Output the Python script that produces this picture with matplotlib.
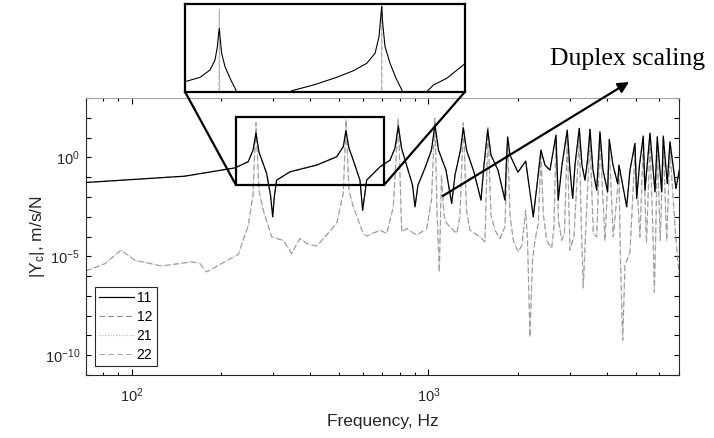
import numpy as np
import matplotlib.pyplot as plt
from matplotlib.patches import Rectangle, ConnectionPatch
from matplotlib.ticker import NullFormatter, LogLocator

plt.rcParams['font.family'] = ['Liberation Sans', 'DejaVu Sans']
plt.rcParams['mathtext.default'] = 'regular'

# |Y_11| (22 sits on top of it) - frequency in Hz, magnitude as log10
f11 = [70, 151, 223, 247, 256.5, 262.3, 268.5, 285, 293.6, 298.7, 302.8, 308, 341.6, 420,
       490.6, 516.4, 527.2, 539.6, 557.9, 587.8, 600.2, 619.1, 686.5, 742, 771.4, 791.5,
       811.3, 853.3, 883.6, 900.9, 922, 973.2, 1023.5, 1051.7, 1080.7, 1145.5, 1197.3,
       1228.4, 1282, 1310.3, 1343.3, 1423.6, 1502.8, 1538.2, 1583, 1624, 1714.6, 1810.4,
       1831.5, 1848.5, 1881.8, 2002, 2126, 2181, 2255, 2321, 2393, 2469, 2567, 2689, 2737,
       2817, 2935, 2998, 3061, 3116, 3222, 3290, 3368, 3434, 3501, 3583, 3688, 3783, 3872,
       4016, 4066, 4184, 4340, 4384, 4655, 4775, 4963, 5029, 5140, 5292, 5363, 5576, 5797,
       5901, 6106, 6182, 6376, 6511, 6823, 7000]
y11_log = [-1.27, -0.95, -0.53, -0.22, 0.37, 1.23, 0.27, -0.81, -1.91, -3.0, -1.91, -1.15,
           -0.73, -0.39, 0.03, 0.54, 1.35, 0.47, -0.14, -1.15, -2.67, -1.15, -0.48, -0.14,
           0.47, 1.6, 0.47, -0.64, -1.4, -2.5, -1.4, -0.54, 0.37, 1.65, 0.37, -0.64, -2.33,
           -0.9, 0.37, 1.5, 0.37, -0.75, -2.16, -0.39, 1.4, 0.12, -0.64, -2.16, -0.14, 1.03,
           0.12, -0.75, -0.19, -1.4, -3.0, -1.4, 0.37, -0.39, -0.64, 1.13, -2.16, -0.39, 1.38,
           -0.64, -2.08, -0.39, 1.47, -0.39, -1.15, -0.14, 1.42, -0.64, -1.66, 1.30, -0.64,
           -1.74, 0.91, -0.39, -1.32, -0.39, -2.5, -0.64, 0.71, -2.08, -0.39, 1.08, -1.66,
           1.22, -1.74, 1.04, -1.74, 1.08, -1.32, 0.79, -1.57, -0.64]
f22 = f11
y22_log = y11_log

# cross terms 12 and 21 (they overlap)
f12 = [70, 81.3, 92, 102.6, 126.2, 159.3, 169.9, 178.9, 228.7, 247.2, 256.3, 262.3, 268.5,
       277.5, 296.3, 308, 324.2, 346, 369, 388.6, 420, 490.6, 516.4, 527.2, 539.6, 557.9,
       603, 619.1, 686.5, 723.4, 761.2, 791.5, 812.5, 844.8, 912.6, 986, 1023.5, 1051.7,
       1068.3, 1087.6, 1106.3, 1127.9, 1151.7, 1244.5, 1276.7, 1310.3, 1343.3, 1380, 1491,
       1550, 1586.7, 1624, 1675.2, 1741.4, 1810.4, 1848.5, 1881.8, 1930.6, 2006.7, 2065,
       2126, 2156, 2198, 2241, 2285, 2344, 2393, 2440, 2502, 2601, 2648, 2689, 2742, 2811,
       2872, 2935, 2998, 3093, 3222, 3277, 3323, 3381, 3501, 3592, 3688, 3783, 3933, 4066,
       4195, 4384, 4436, 4512, 4593, 4775, 4963, 5159, 5292, 5426, 5576, 5710, 5768, 5834,
       5901, 6037, 6182, 6349, 6511, 6807, 7000]
y12_log = [-5.74, -5.37, -4.69, -5.2, -5.49, -5.28, -5.37, -5.79, -4.9, -3.43, -1.91, 1.75,
           -1.65, -2.67, -4.02, -4.1, -4.19, -4.86, -4.1, -4.35, -4.49, -3.34, -1.82, 1.9,
           -1.65, -2.5, -3.85, -3.98, -3.68, -3.85, -2.5, 2.0, -3.77, -3.6, -3.93, -3.6, -2.16,
           1.97, -2.67, -5.79, -0.9, -2.92, -3.34, -3.85, -3.0, 1.75, -2.67, -3.68, -4.02,
           -4.27, 1.5, -2.92, -3.68, -4.1, -3.51, 0.8, -2.92, -4.19, -4.78, -4.44, -2.67,
           -4.19, -9.08, -5.2, -4.19, -3.34, 0.1, -2.92, -4.19, -4.6, -3.43, 0.8, -3.17,
           -4.19, -3.83, 1.0, -4.69, -3.98, 1.0, -3.68, -6.6, -3.93, 1.0, -3.85, -4.02, 0.9,
           -4.19, 0.5, -4.02, -0.8, -5.2, -9.25, -5.45, -4.78, 0.3, -4.02, 0.7, -4.34, 0.8,
           -3.93, -6.82, -3.78, 0.6, -4.19, 0.6, -4.19, 0.4, -4.02, -6.0]
f21 = f12
y21_log = y12_log

# zoomed view (finer resolution round the first two modes)
f_zoom = [226, 241, 251.6, 257.0, 259.6, 261.0, 261.8, 262.6, 264.4, 268.3, 274.1, 280.0,
          282.0, 298.7, 356.9, 391.8, 432.9, 464.9, 492.2, 510.1, 518.9, 523.4, 524.9, 527.1,
          532.4, 544.0, 558.1, 574.3, 600, 636.5, 654.9, 693.5, 744.5, 750]
y_zoom11 = [-0.568, -0.40, -0.121, 0.261, 0.769, 1.281, 1.472, 1.151, 0.517, 0.005, -0.438,
            -0.82, -0.95, -3.0, -0.912, -0.694, -0.40, -0.148, 0.135, 0.517, 1.151, 2.045,
            2.297, 1.663, 0.769, 0.135, -0.438, -0.95, -2.67, -0.95, -0.694, -0.438, 0.07,
            0.12]
f_zoom12 = [226, 261.3, 261.8, 262.3, 400, 524.4, 524.9, 525.4, 750]
y_zoom12 = [-4, -1.5, 2.2, -1.5, -4, -1.5, 2.5, -1.5, -4]

zoom_f = (224.6, 708)
zoom_y = (10 ** -1.4, 10 ** 2.06)

fig = plt.figure(figsize=(7.14, 4.38), dpi=100)
ax = fig.add_axes([0.120, 0.1438, 0.8314, 0.6324])

l12, = ax.plot(f12, 10.0 ** np.array(y12_log), color='0.55', lw=0.8, ls=(0, (5, 3)))
l21, = ax.plot(f21, 10.0 ** np.array(y21_log), color='0.72', lw=0.8, ls=(0, (1, 1.5)))
l22, = ax.plot(f22, 10.0 ** np.array(y22_log), color='0.65', lw=0.8, ls=(0, (5, 3)))
l11, = ax.plot(f11, 10.0 ** np.array(y11_log), color='black', lw=0.9)

ax.set_xscale('log')
ax.set_yscale('log')
ax.set_xlim(70, 7000)
ax.set_ylim(1e-11, 1e3)
ax.set_xticks([100, 1000])
ax.xaxis.set_minor_locator(LogLocator(base=10, subs=np.arange(2, 10)))
ax.xaxis.set_minor_formatter(NullFormatter())
ax.set_yticks([1e-10, 1e-5, 1e0])
ax.set_yticks(10.0 ** np.arange(-11, 4), minor=True)
ax.yaxis.set_minor_formatter(NullFormatter())
ax.tick_params(which='both', direction='in', top=True, right=True, labelsize=10.5,
               labelcolor='0.15', width=0.8)
ax.tick_params(axis='x', which='major', length=4.3, pad=8.5)
ax.tick_params(axis='x', which='minor', length=2.4)
ax.tick_params(axis='y', which='both', length=3.6, pad=4)
for s in ['left', 'bottom', 'right']:
    ax.spines[s].set_color('0.15')
ax.spines['top'].set_color('0.65')

ax.set_xlabel('Frequency, Hz', fontsize=12.5, color='0.15', labelpad=6)
ax.set_ylabel('|Y$_c$|, m/s/N', fontsize=12.5, color='0.15', labelpad=-2)

leg = ax.legend([l11, l12, l21, l22], ['11', '12', '21', '22'], loc='lower left',
                bbox_to_anchor=(0.0157, 0.0325), borderaxespad=0, fontsize=10,
                handlelength=2.5, handletextpad=0.2, labelspacing=0.35, borderpad=0.3,
                fancybox=False, framealpha=1, edgecolor='0.15')
leg.get_frame().set_linewidth(0.8)

# rectangle marking the zoomed part
ax.add_patch(Rectangle((zoom_f[0], zoom_y[0]), zoom_f[1] - zoom_f[0], zoom_y[1] - zoom_y[0],
                       fill=False, ec='black', lw=1.6, zorder=5))

# zoomed view on top
axz = fig.add_axes([0.2591, 0.7906, 0.3922, 0.2002])
axz.plot(f_zoom12, 10.0 ** np.array(y_zoom12), color='0.7', lw=0.8, ls=(0, (4, 2)))
axz.plot(f_zoom, 10.0 ** np.array(y_zoom11), color='black', lw=0.8)
axz.set_xscale('log')
axz.set_yscale('log')
axz.set_xlim(226, 750)
axz.set_ylim(10 ** -0.95, 10 ** 2.4)
axz.set_xticks([])
axz.set_yticks([])
axz.minorticks_off()
for s in axz.spines.values():
    s.set_linewidth(1.6)

for xa, xm in [(0, zoom_f[0]), (1, zoom_f[1])]:
    con = ConnectionPatch(xyA=(xa, 0), coordsA=axz.transAxes, xyB=(xm, zoom_y[0]),
                          coordsB=ax.transData, color='black', lw=1.6)
    fig.add_artist(con)

# annotation
fig.text(550 / 714, 1 - 65 / 438, 'Duplex scaling', family='Liberation Serif', fontsize=18.5,
         ha='left', va='baseline')
ax.annotate('', xy=(629 / 714, 1 - 82 / 438), xycoords='figure fraction',
            xytext=(442.7 / 714, 1 - 196 / 438), textcoords='figure fraction',
            arrowprops=dict(arrowstyle='-|>', color='black', lw=1.6, mutation_scale=16,
                            shrinkA=0, shrinkB=0))

fig.savefig('out.png', dpi=100)
